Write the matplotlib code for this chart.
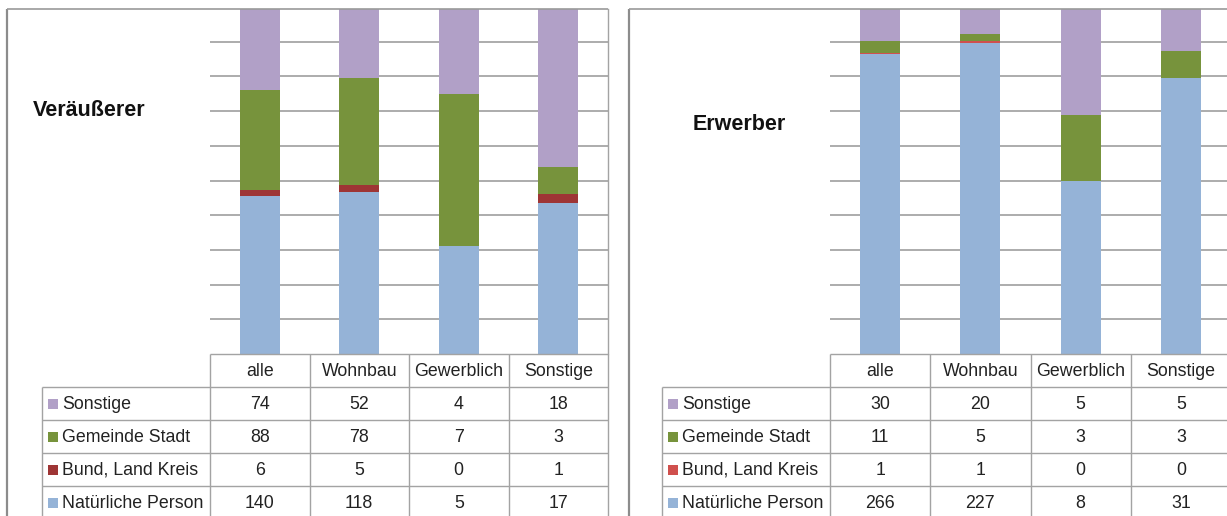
import matplotlib
matplotlib.use('Agg')
import matplotlib.pyplot as plt
from matplotlib.lines import Line2D
import numpy as np

# Data
categories = ['alle', 'Wohnbau', 'Gewerblich', 'Sonstige']
series_names = ['Natürliche Person', 'Bund, Land Kreis', 'Gemeinde Stadt', 'Sonstige']  # bottom -> top

veraeusserer = {
    'Natürliche Person': [140, 118, 5, 17],
    'Bund, Land Kreis': [6, 5, 0, 1],
    'Gemeinde Stadt': [88, 78, 7, 3],
    'Sonstige': [74, 52, 4, 18],
}
erwerber = {
    'Natürliche Person': [266, 227, 8, 31],
    'Bund, Land Kreis': [1, 1, 0, 0],
    'Gemeinde Stadt': [11, 5, 3, 3],
    'Sonstige': [30, 20, 5, 5],
}

colors_left = {'Natürliche Person': '#95B3D7', 'Bund, Land Kreis': '#9E3535',
               'Gemeinde Stadt': '#77933C', 'Sonstige': '#B1A0C7'}
colors_right = {'Natürliche Person': '#95B3D7', 'Bund, Land Kreis': '#D0504D',
                'Gemeinde Stadt': '#77933C', 'Sonstige': '#B1A0C7'}

W, H = 1227, 516
TXT = ['Liberation Sans', 'DejaVu Sans']
TITLE = ['Liberation Sans', 'DejaVu Sans']
GRID = '#A6A6A6'
LINE = '#A3A3A3'
TEXTC = '#222222'
FS = 12.8

fig = plt.figure(figsize=(W / 100, H / 100), dpi=100)


def fx(px):
    return px / W


def fy(py):
    return 1 - py / H


def frame_line(x1, y1, x2, y2, color, lw):
    fig.add_artist(Line2D([fx(x1), fx(x2)], [fy(y1), fy(y2)], transform=fig.transFigure,
                          color=color, lw=lw, solid_capstyle='butt'))


def draw_panel(data, colors, title, title_xy, col_left, col_w, lab_left, right_border):
    # stacked 100% bars
    right = col_left + 4 * col_w
    ax = fig.add_axes([fx(col_left), fy(354), (right - col_left) / W, (354 - 9) / H])
    totals = np.sum([data[s] for s in series_names], axis=0)
    x = np.arange(len(categories))
    bottom = np.zeros(len(categories))
    for s in series_names:
        share = np.array(data[s]) / totals
        ax.bar(x, share, width=0.4, bottom=bottom, color=colors[s], zorder=3)
        bottom += share
    ax.set_xlim(-0.5, 3.5)
    ax.set_ylim(0, (354 - 9) / 347)
    ax.set_yticks(np.arange(0.1, 1.0, 0.1))
    ax.set_xticks([])
    ax.tick_params(length=0, labelleft=False)
    ax.yaxis.grid(True, color=GRID, lw=1.3)
    for sp in ['top', 'left', 'bottom']:
        ax.spines[sp].set_visible(False)
    if right_border:
        ax.spines['right'].set_color(LINE)
        ax.spines['right'].set_linewidth(1.0)
    else:
        ax.spines['right'].set_visible(False)

    # data table
    lab_w = (col_left - lab_left) / col_w
    tax = fig.add_axes([fx(lab_left), fy(519), (right - lab_left) / W, 165 / H])
    tax.set_xlim(-0.5 - lab_w, 3.5)
    tax.set_ylim(5, 0)
    tax.set_axis_off()
    kw = dict(color=LINE, lw=1.0, clip_on=False)
    tax.hlines(0, -0.5, 3.5, **kw)
    tax.hlines(np.arange(1, 6), -0.5 - lab_w, 3.5, **kw)
    tax.vlines(np.arange(-0.5, 4.0, 1.0), 0, 5, **kw)
    tax.vlines(-0.5 - lab_w, 1, 5, **kw)
    for i, c in enumerate(categories):
        tax.text(i, 0.52, c, ha='center', va='center', fontsize=FS, family=TXT, color=TEXTC)
    rows = series_names[::-1]
    for r, s in enumerate(rows):
        y = r + 1.52
        tax.scatter([-0.5 - lab_w + 11 / col_w], [r + 1.5], marker='s', s=52, color=colors[s],
                    clip_on=False, linewidths=0)
        tax.text(-0.5 - lab_w + 20 / col_w, y, s, ha='left', va='center', fontsize=FS,
                 family=TXT, color=TEXTC)
        for i, v in enumerate(data[s]):
            tax.text(i, y, str(v), ha='center', va='center', fontsize=FS, family=TXT, color=TEXTC)

    fig.text(fx(title_xy[0]), fy(title_xy[1]), title, ha='left', va='center', fontsize=15.5,
             fontweight='bold', family=TITLE, color='#111111')


# outer frames
frame_line(7, 9, 7, 516, '#8C8C8C', 1.6)
frame_line(7, 9, 608, 9, '#9A9A9A', 1.2)
frame_line(629, 9, 629, 516, '#8C8C8C', 1.6)
frame_line(629, 9, 1227, 9, '#9A9A9A', 1.2)

draw_panel(veraeusserer, colors_left, 'Veräußerer', (33, 111), 210, 99.5, 42, True)
draw_panel(erwerber, colors_right, 'Erwerber', (693, 125), 830, 100.25, 662, False)

fig.savefig('out.png', dpi=100)
